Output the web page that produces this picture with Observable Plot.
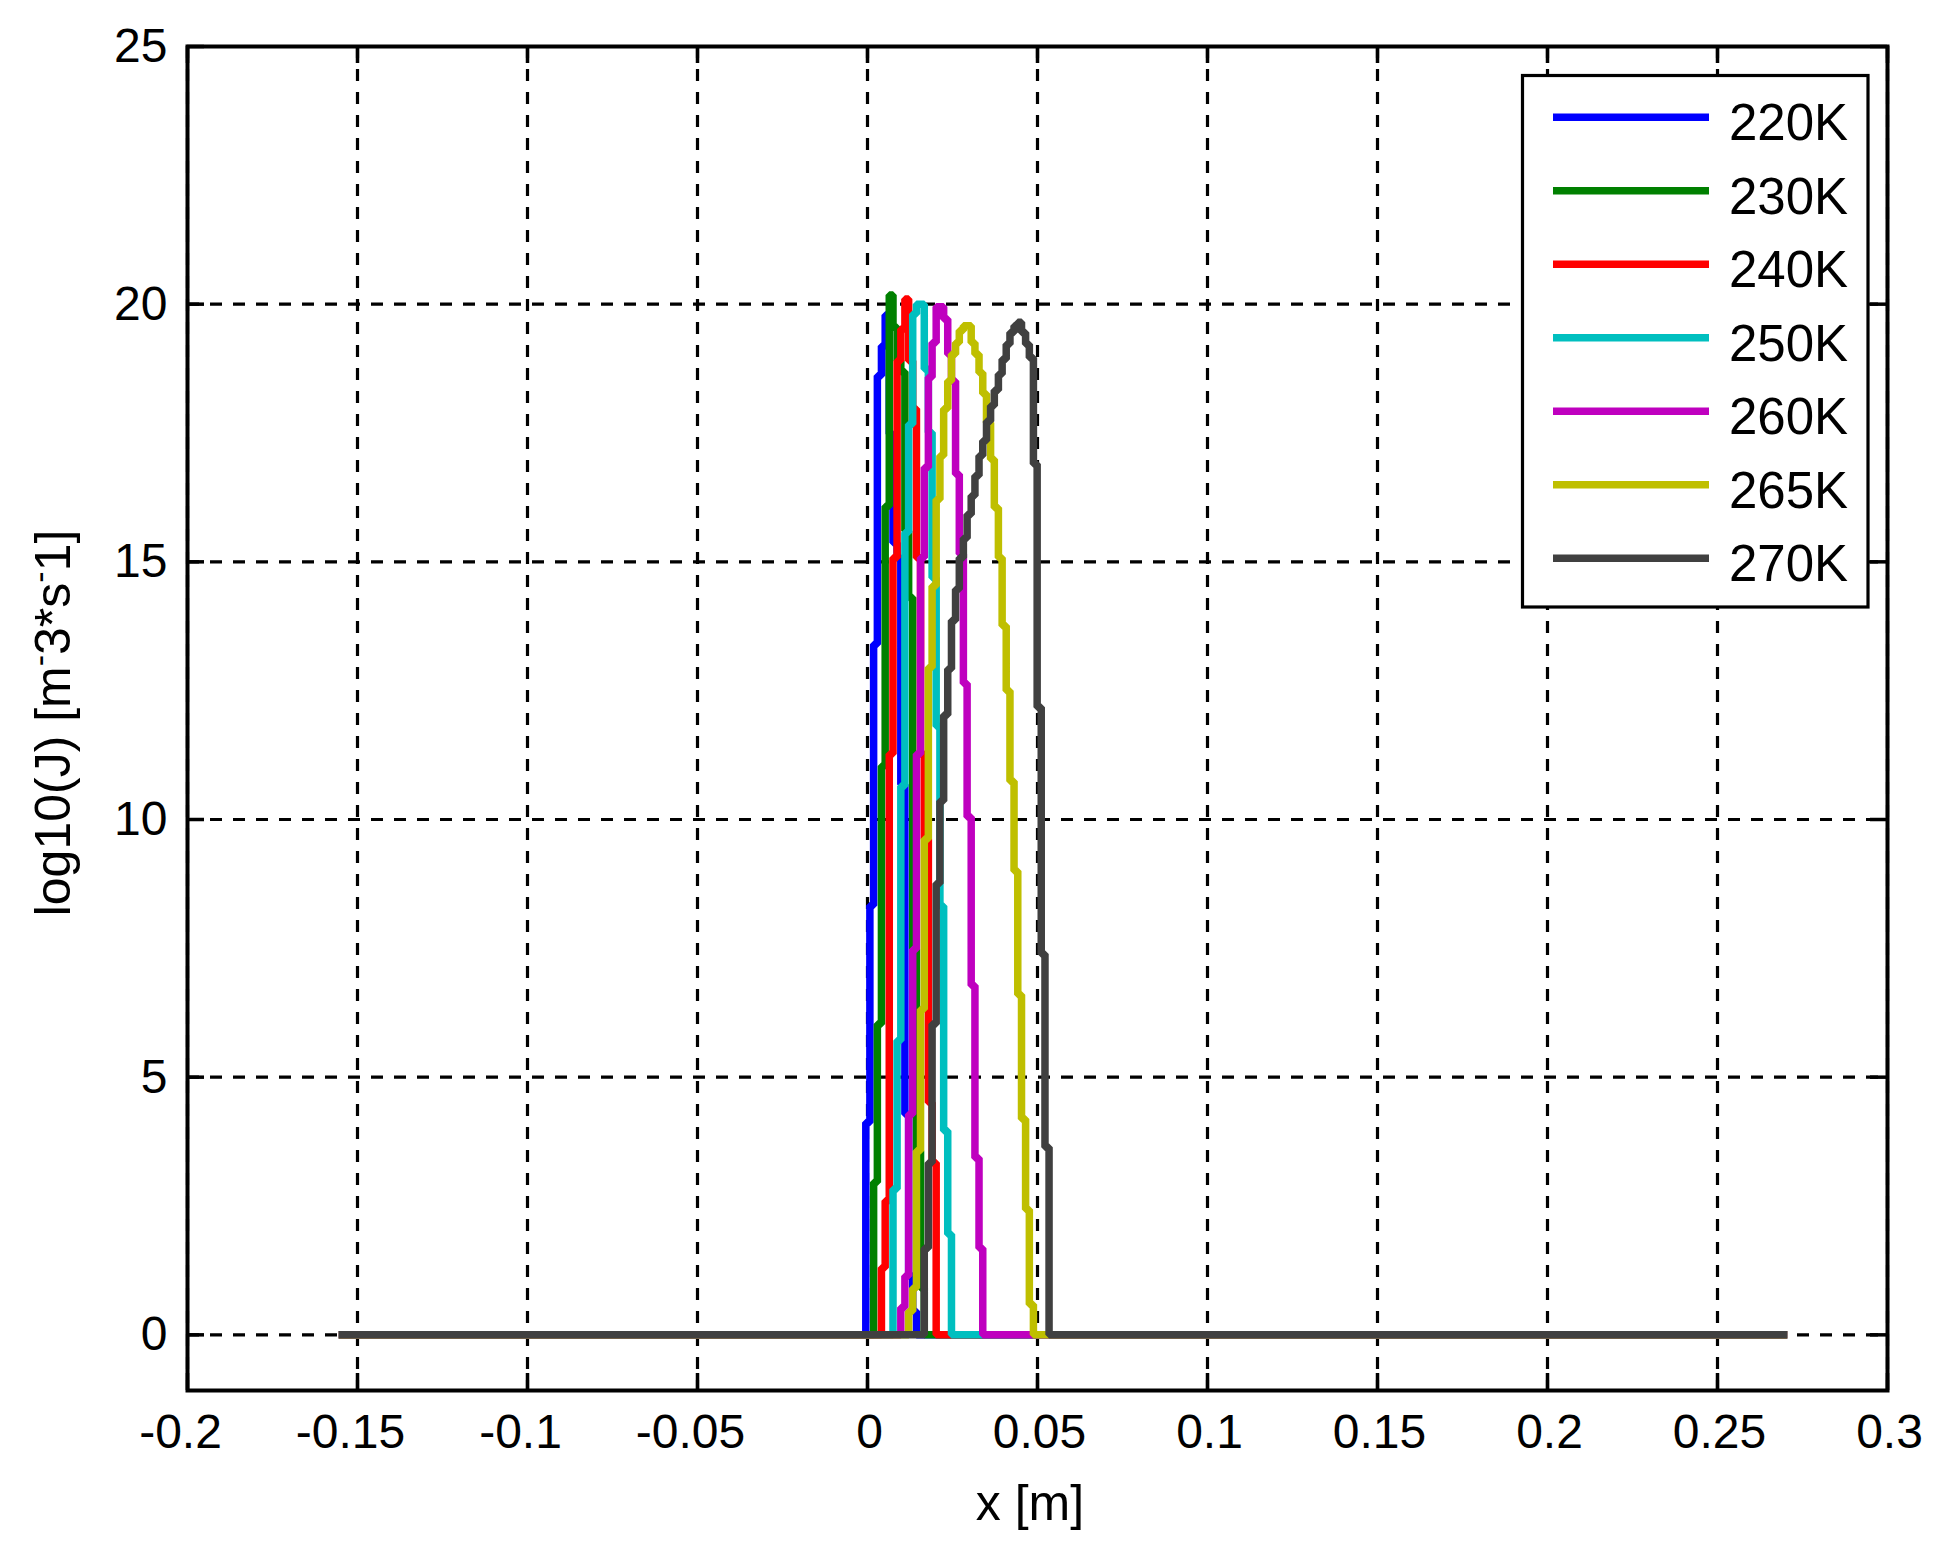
<!DOCTYPE html>
<html>
<head>
<meta charset="utf-8">
<script src="https://cdn.jsdelivr.net/npm/d3@7"></script>
<script src="https://cdn.jsdelivr.net/npm/@observablehq/plot@0.6"></script>
<style>
  html, body { margin: 0; padding: 0; background: #ffffff; }
  #wrap { width: 1939px; height: 1557px; }
  svg { display: block; }
</style>
</head>
<body>
<div id="wrap"></div>
<script>
// ---------- data ----------
const xTicks = [-0.2, -0.15, -0.1, -0.05, 0, 0.05, 0.1, 0.15, 0.2, 0.25, 0.3];
const xTickLabels = ["-0.2", "-0.15", "-0.1", "-0.05", "0", "0.05", "0.1", "0.15", "0.2", "0.25", "0.3"];
const yTicks = [0, 5, 10, 15, 20, 25];
const yTickLabels = ["0", "5", "10", "15", "20", "25"];

const seriesNames = ["220K", "230K", "240K", "250K", "260K", "265K", "270K"];
const seriesColors = ["#0000ff", "#008000", "#ff0000", "#00bfbf", "#bf00bf", "#bfbf00", "#404040"];

// x positions (m) of the sample grid where the staircase steps occur
const xGrid = [
  -0.0005, 0.0007, 0.0018, 0.0029, 0.0041, 0.0052, 0.0064, 0.0075, 0.0087, 0.0098,
  0.0110, 0.0121, 0.0133, 0.0144, 0.0156, 0.0167, 0.0179, 0.0190, 0.0202, 0.0213,
  0.0224, 0.0236, 0.0247, 0.0259, 0.0270, 0.0282, 0.0293, 0.0305, 0.0316, 0.0328,
  0.0339, 0.0350, 0.0362, 0.0373, 0.0385, 0.0396, 0.0408, 0.0419, 0.0431, 0.0442,
  0.0453, 0.0465, 0.0476, 0.0488, 0.0499, 0.0511, 0.0522, 0.0534
];
const xBaseStart = -0.1555;
const xBaseEnd = 0.2705;

// log10(J) levels, starting at xGrid[start]
const start220 = 0;
const levels220 = [4.12, 8.33, 13.40, 18.61, 19.19, 19.79, 17.48, 15.37, 15.08, 10.68, 4.28, 1.14, 0.46, 0];
const start230 = 2;
const levels230 = [2.96, 6.03, 11.04, 16.08, 20.18, 19.55, 18.90, 18.69, 15.60, 14.31, 7.48, 3.57, 0.91, 0];
const start240 = 4;
const levels240 = [1.30, 2.60, 11.27, 15.08, 18.90, 19.52, 20.10, 18.90, 17.97, 15.08, 11.27, 9.62, 4.51, 3.34, 0];
const start250 = 7;
const levels250 = [2.83, 5.71, 10.65, 15.57, 17.67, 19.81, 20.00, 20.00, 18.74, 17.51, 14.69, 11.81, 8.32, 3.96, 1.95, 0];
const start260 = 9;
const levels260 = [0.53, 1.14, 4.28, 7.48, 11.27, 15.08, 16.83, 18.58, 19.25, 19.95, 19.95, 19.71, 19.03, 18.51, 16.70, 15.15, 12.64, 10.05, 6.78, 3.43, 1.68, 0];
const start265 = 11;
const levels265 = [0.46, 0.91, 3.57, 6.32, 9.62, 12.95, 14.53, 16.21, 17.06, 17.97, 18.51, 19.03, 19.25, 19.49, 19.58, 19.58, 19.25, 19.03, 18.67, 18.26, 17.70, 16.99, 16.05, 15.08, 13.76, 12.50, 10.74, 9.00, 6.60, 4.19, 2.43, 0.59, 0];
const start270 = 15;
const levels270 = [1.68, 3.34, 6.03, 8.76, 10.36, 12.03, 12.92, 13.86, 14.47, 15.08, 15.46, 15.92, 16.28, 16.67, 17.06, 17.35, 17.73, 18.03, 18.33, 18.64, 18.93, 19.22, 19.45, 19.58, 19.65, 19.45, 19.22, 18.96, 16.90, 12.18, 7.39, 3.64, 0];

// ---------- build ----------
const starts = [start220, start230, start240, start250, start260, start265, start270];
const levels = [levels220, levels230, levels240, levels250, levels260, levels265, levels270];

function buildSeries(start, lv) {
  const pts = [{x: xBaseStart, y: 0}];
  lv.forEach((v, i) => pts.push({x: xGrid[start + i], y: v}));
  pts.push({x: xBaseEnd, y: 0});
  return pts;
}
const seriesData = seriesNames.map((n, i) => buildSeries(starts[i], levels[i]));

const xLabelOf = new Map(xTicks.map((t, i) => [t, xTickLabels[i]]));
const yLabelOf = new Map(yTicks.map((t, i) => [t, yTickLabels[i]]));

const W = 1939, H = 1557;
const mL = 187, mR = 52, mT = 46, mB = 167;
const innerW = W - mL - mR, innerH = H - mT - mB;
const tickLen = 17;
const FONT = "'Liberation Sans', Arial, Helvetica, sans-serif";

const gridStyle = {stroke: "#000", strokeOpacity: 1, strokeWidth: 3.2, strokeDasharray: "12,11"};

const chart = Plot.plot({
  width: W,
  height: H,
  marginLeft: mL,
  marginRight: mR,
  marginTop: mT,
  marginBottom: mB,
  x: {domain: [-0.2, 0.3]},
  y: {domain: [-1.08, 25]},
  style: {fontFamily: FONT, fontSize: "48px", color: "#000", background: "#fff"},
  marks: [
    Plot.gridX(xTicks, gridStyle),
    Plot.gridY(yTicks, gridStyle),
    ...seriesData.map((d, i) => Plot.line(d, {
      x: "x", y: "y",
      stroke: seriesColors[i],
      strokeWidth: 7.5,
      curve: "step-after",
      strokeLinejoin: "miter",
      strokeLinecap: "butt"
    })),
    // inward ticks on all four sides
    Plot.ruleX(xTicks, {stroke: "#000", strokeWidth: 3.5, insetTop: innerH - tickLen}),
    Plot.ruleX(xTicks, {stroke: "#000", strokeWidth: 3.5, insetBottom: innerH - tickLen}),
    Plot.ruleY(yTicks, {stroke: "#000", strokeWidth: 3.5, insetRight: innerW - tickLen}),
    Plot.ruleY(yTicks, {stroke: "#000", strokeWidth: 3.5, insetLeft: innerW - tickLen}),
    Plot.axisX(xTicks.filter(d => d < 0), {
      tickSize: 0, tickPadding: 23, dx: -7, label: null,
      tickFormat: d => xLabelOf.get(d), fontSize: 48
    }),
    Plot.axisX(xTicks.filter(d => d >= 0), {
      tickSize: 0, tickPadding: 23, dx: 2, label: null,
      tickFormat: d => xLabelOf.get(d), fontSize: 48
    }),
    Plot.axisY(yTicks, {
      tickSize: 0, tickPadding: 20, label: null,
      tickFormat: d => yLabelOf.get(d), fontSize: 48
    }),
    Plot.frame({stroke: "#000", strokeWidth: 4})
  ]
});

document.getElementById("wrap").appendChild(chart);

// ---------- axis labels & legend ----------
const svg = d3.select(chart);

svg.append("text")
  .attr("x", 1030)
  .attr("y", 1520)
  .attr("text-anchor", "middle")
  .style("font-family", FONT)
  .style("font-size", "50px")
  .attr("fill", "#000")
  .text("x [m]");

// y label: "log10(J) [m^-3*s^-1]" rendered with raised minus signs
const yl = svg.append("text")
  .attr("transform", "translate(70,723) rotate(-90)")
  .attr("text-anchor", "middle")
  .style("font-family", FONT)
  .style("font-size", "50px")
  .attr("fill", "#000");
yl.append("tspan").text("log10(J) [m");
yl.append("tspan").attr("baseline-shift", "super").style("font-size", "34px").text("-");
yl.append("tspan").text("3*s");
yl.append("tspan").attr("baseline-shift", "super").style("font-size", "34px").text("-");
yl.append("tspan").text("1]");

const lg = svg.append("g");
lg.append("rect")
  .attr("x", 1522.5).attr("y", 75.5)
  .attr("width", 345.5).attr("height", 531.5)
  .attr("fill", "#fff").attr("stroke", "#000").attr("stroke-width", 3.2);

seriesNames.forEach((name, i) => {
  const cy = 117.3 + 73.5 * i;
  lg.append("line")
    .attr("x1", 1553).attr("x2", 1709)
    .attr("y1", cy).attr("y2", cy)
    .attr("stroke", seriesColors[i])
    .attr("stroke-width", 7.5);
  lg.append("text")
    .attr("x", 1729).attr("y", cy + 22.7)
    .attr("text-anchor", "start")
    .style("font-family", FONT)
    .style("font-size", "51px")
    .attr("fill", "#000")
    .text(name);
});
</script>
</body>
</html>
